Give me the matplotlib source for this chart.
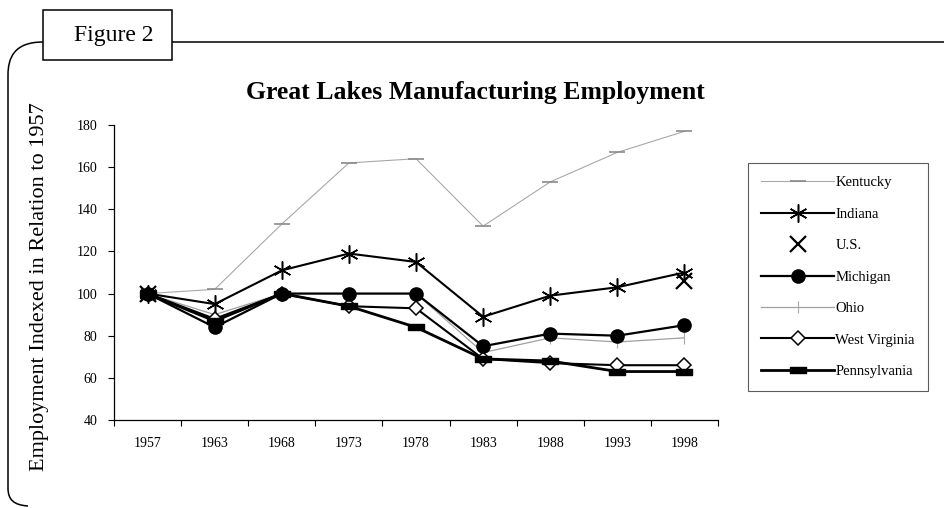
import matplotlib
matplotlib.use("Agg")
import matplotlib.pyplot as plt
import numpy as np
from matplotlib.path import Path
from matplotlib.patches import PathPatch, Rectangle

plt.rcParams['font.family'] = ['Liberation Serif', 'DejaVu Serif']

years = ["1957", "1963", "1968", "1973", "1978", "1983", "1988", "1993", "1998"]

kentucky = [100, 102, 133, 162, 164, 132, 153, 167, 177]
indiana = [100, 95, 111, 119, 115, 89, 99, 103, 110]
us = [100, None, None, None, None, None, None, None, 106]
michigan = [100, 84, 100, 100, 100, 75, 81, 80, 85]
ohio = [100, 90, 100, 100, 100, 72, 79, 77, 79]
west_virginia = [100, 88, 100, 94, 93, 69, 67, 66, 66]
pennsylvania = [100, 87, 100, 94, 84, 69, 68, 63, 63]

W, H = 945, 508
fig = plt.figure(figsize=(W / 100, H / 100), dpi=100)
ax = fig.add_axes([114 / W, 1 - 420 / H, (718 - 114) / W, (420 - 125) / H])

x = np.arange(len(years))

def vals(seq):
    return np.array([np.nan if v is None else v for v in seq], dtype=float)

# wide bar marker used for Pennsylvania
bar = Path([(-1, -0.38), (1, -0.38), (1, 0.38), (-1, 0.38), (-1, -0.38)],
           [Path.MOVETO, Path.LINETO, Path.LINETO, Path.LINETO, Path.CLOSEPOLY])
asterisk = (6, 2, 0)

ax.plot(x, vals(kentucky), color='#a8a8a8', lw=0.8, marker='_', ms=11,
        mew=1.2, mec='#8a8a8a', label='Kentucky', zorder=2)
ax.plot(x, vals(indiana), color='black', lw=1.5, marker=asterisk, ms=13,
        mew=1.1, mec='black', label='Indiana', zorder=4)
ax.plot(x, vals(us), color='black', lw=0, marker='x', ms=11, mew=1.6,
        linestyle='none', label='U.S.', zorder=6)
ax.plot(x, vals(michigan), color='black', lw=1.6, marker='o', ms=9.5,
        mfc='black', mec='black', label='Michigan', zorder=5)
ax.plot(x, vals(ohio), color='#a0a0a0', lw=0.9, marker='|', ms=9,
        mew=0.8, mec='#a8a8a8', label='Ohio', zorder=3)
ax.plot(x, vals(west_virginia), color='black', lw=1.5, marker='D', ms=7,
        mfc='white', mec='black', mew=1.1, label='West Virginia', zorder=4)
ax.plot(x, vals(pennsylvania), color='black', lw=2.0, marker=bar, ms=11,
        mfc='black', mec='black', label='Pennsylvania', zorder=4)

ax.set_xlim(-0.5, len(years) - 0.5)
ax.set_ylim(40, 180)
ax.set_yticks(np.arange(40, 181, 20))
ax.set_xticks(x)
ax.set_xticklabels(years)
ax.set_xticks(np.arange(-0.5, len(years), 1), minor=True)
ax.tick_params(axis='x', which='major', length=0, pad=12, labelsize=10)
ax.tick_params(axis='x', which='minor', length=4, direction='out', width=0.8)
ax.tick_params(axis='y', length=4, direction='out', width=0.8, pad=8, labelsize=10)
for s in ['top', 'right']:
    ax.spines[s].set_visible(False)
for s in ['left', 'bottom']:
    ax.spines[s].set_linewidth(0.9)
ax.set_facecolor('white')

leg = fig.legend(loc='upper left', bbox_to_anchor=(748 / W, 1 - 163 / H),
                 frameon=True, fancybox=False, edgecolor='#333333',
                 fontsize=10.5, handlelength=5.0, handletextpad=0.1,
                 labelspacing=1.25, borderpad=0.9, numpoints=1,
                 borderaxespad=0)
leg.get_frame().set_linewidth(0.8)

fig.text(475 / W, 1 - 92 / H, 'Great Lakes Manufacturing Employment',
         ha='center', va='center', fontsize=18.5, fontweight='bold')
fig.text(40 / W, 1 - 287 / H, 'Employment Indexed in Relation to 1957',
         ha='center', va='center', rotation=90, fontsize=16)

# "Figure 2" box and the rounded frame around the chart
fig.patches.append(Rectangle((43 / W, 1 - 60 / H), (172 - 43) / W, 50 / H,
                             transform=fig.transFigure, fill=False,
                             edgecolor='black', lw=1.1))
fig.text(114 / W, 1 - 35 / H, 'Figure 2', ha='center', va='center', fontsize=17)

pts = [(945, 42), (172, 42)]
frame_top = Path([(p[0] / W, 1 - p[1] / H) for p in pts],
                 [Path.MOVETO, Path.LINETO])
fig.patches.append(PathPatch(frame_top, transform=fig.transFigure,
                             fill=False, edgecolor='black', lw=1.1))
left_pts = [(43, 42), (14, 42), (8, 58), (8, 75),
            (8, 488), (8, 500), (14, 505), (28, 506)]
codes = [Path.MOVETO, Path.CURVE4, Path.CURVE4, Path.CURVE4,
         Path.LINETO, Path.CURVE4, Path.CURVE4, Path.CURVE4]
frame_left = Path([(p[0] / W, 1 - p[1] / H) for p in left_pts], codes)
fig.patches.append(PathPatch(frame_left, transform=fig.transFigure,
                             fill=False, edgecolor='black', lw=1.1))

fig.savefig('out.png', dpi=100, facecolor='white')
